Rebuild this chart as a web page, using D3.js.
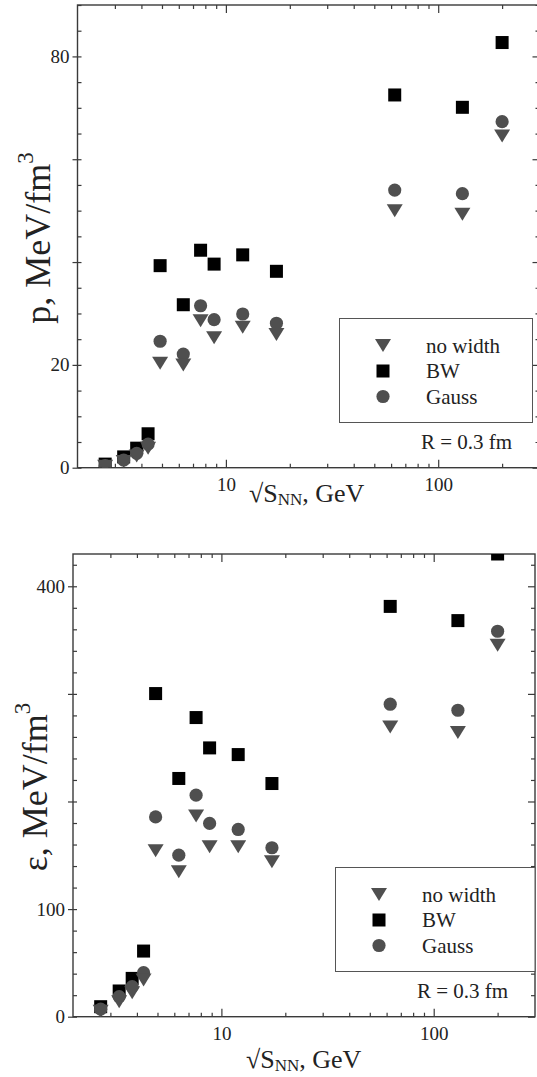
<!DOCTYPE html>
<html>
<head>
<meta charset="utf-8">
<script src="https://cdn.jsdelivr.net/npm/d3@7"></script>
<style>
  html, body { margin: 0; padding: 0; background: #fff; }
  svg { display: block; font-family: 'Liberation Serif', 'Times New Roman', serif; }
  svg text { font-family: 'Liberation Serif', 'Times New Roman', serif !important; fill: #222; }
</style>
</head>
<body>
<svg id="chart" width="537" height="1077"></svg>
<script>
// Collision energies, sqrt(s_NN) in GeV
const energies = [2.7, 3.3, 3.8, 4.3, 4.9, 6.3, 7.6, 8.8, 12.0, 17.3, 62.4, 130, 200];

// Pressure p, MeV/fm^3
const pNoWidth = [0.3, 1.2, 2.3, 3.8, 20.3, 20.0, 28.6, 25.3, 27.3, 25.9, 50.0, 49.3, 64.5];
const pBW      = [0.7, 2.1, 3.8, 6.6, 39.3, 31.7, 42.3, 39.6, 41.4, 38.2, 72.5, 70.1, 82.7];
const pGauss   = [0.4, 1.5, 2.8, 4.6, 24.6, 22.1, 31.5, 28.8, 29.9, 28.1, 54.0, 53.3, 67.3];

// Energy density epsilon, MeV/fm^3
const eNoWidth = [5, 14, 22.3, 34, 154.2, 134.6, 186.4, 157.9, 157.9, 144, 269.3, 264, 345.1];
const eBW      = [9.3, 23.9, 35.6, 61, 300.3, 221.4, 278, 249.8, 243.6, 216.7, 381.3, 368.1, 430];
const eGauss   = [7, 18.6, 27.9, 40.9, 185.7, 150.1, 205.9, 179.6, 174, 157, 290.4, 284.8, 358.2];

// Axis ticks and labels
const xDomain = [2, 300];
const xMajor = [10, 100];
const xMinor = [3, 4, 5, 6, 7, 8, 9, 20, 30, 40, 50, 60, 70, 80, 90, 200];
const pDomain = [0, 90];
const pMajor = [0, 20, 40, 60, 80];
const pLabels = [0, 20, 80];
const pMinorStep = 5;
const eDomain = [0, 430];
const eMajor = [0, 100, 200, 300, 400];
const eLabels = [0, 100, 400];
const eMinorStep = 20;

const seriesNames = ["no width", "BW", "Gauss"];
const noteText = "R = 0.3 fm";

const FONT = "'Liberation Serif', 'Times New Roman', serif";
const svg = d3.select("#chart");
const GRAY = "#4f4f4f";
const AXIS = "#3a3a3a";

const triPath = "M-8,-6.5L8,-6.5L0,6.5Z";

function marker(sel, kind) {
  if (kind === "tri") {
    sel.append("path").attr("d", triPath).attr("fill", GRAY);
  } else if (kind === "sq") {
    sel.append("rect").attr("x", -6.5).attr("y", -6.5).attr("width", 13).attr("height", 13).attr("fill", "#000");
  } else {
    sel.append("circle").attr("r", 6.6).attr("fill", GRAY);
  }
}

function drawPanel(cfg) {
  const g = svg.append("g");
  const x = d3.scaleLog().domain(xDomain).range(cfg.xRange);
  const y = d3.scaleLinear().domain(cfg.yDomain).range(cfg.yRange);
  const [x0, x1] = cfg.xRange;
  const [y0, y1] = cfg.yRange; // y0 bottom, y1 top

  const yMinor = d3.range(cfg.yDomain[0], cfg.yDomain[1] + 0.001, cfg.minorStep)
    .filter(v => !cfg.yMajor.includes(v));

  // Bottom axis (ticks pointing inward)
  const bottom = g.append("g").attr("transform", `translate(0,${y0})`)
    .call(d3.axisBottom(x).tickValues(xMajor).tickSize(-8).tickFormat(d3.format("d")).tickPadding(10));
  bottom.append("g").call(d3.axisBottom(x).tickValues(xMinor).tickSize(-4).tickFormat(""));
  // Top axis
  const top = g.append("g").attr("transform", `translate(0,${y1})`)
    .call(d3.axisTop(x).tickValues(xMajor).tickSize(-8).tickFormat(""));
  top.append("g").call(d3.axisTop(x).tickValues(xMinor).tickSize(-4).tickFormat(""));
  // Left axis: major ticks cross the line, minor ticks inward
  const left = g.append("g").attr("transform", `translate(${x0},0)`)
    .call(d3.axisLeft(y).tickValues(cfg.yMajor).tickSize(5)
      .tickFormat(d => cfg.yLabels.includes(d) ? d : "").tickPadding(3));
  left.append("g").call(d3.axisLeft(y).tickValues(cfg.yMajor).tickSize(-4).tickFormat(""));
  left.append("g").call(d3.axisLeft(y).tickValues(yMinor).tickSize(-4).tickFormat(""));
  // Right axis
  const right = g.append("g").attr("transform", `translate(${x1},0)`)
    .call(d3.axisRight(y).tickValues(cfg.yMajor).tickSize(-7).tickFormat(""));
  right.append("g").call(d3.axisRight(y).tickValues(yMinor).tickSize(-4).tickFormat(""));

  g.selectAll("g").attr("font-family", FONT);
  g.selectAll(".domain").remove();
  g.selectAll(".tick line").attr("stroke", AXIS).attr("stroke-width", 1.2);
  g.selectAll(".tick text").attr("font-size", 19).attr("fill", "#222")
    .style("font-family", FONT);

  // Plot frame
  g.append("rect").attr("x", x0).attr("y", y1).attr("width", x1 - x0).attr("height", y0 - y1)
    .attr("fill", "none").attr("stroke", AXIS).attr("stroke-width", 1.4);

  // Markers, clipped to the plot box
  const clipId = "clip" + cfg.id;
  svg.append("clipPath").attr("id", clipId).append("rect")
    .attr("x", x0).attr("y", y1).attr("width", x1 - x0).attr("height", y0 - y1);
  const pts = g.append("g").attr("clip-path", `url(#${clipId})`);
  const series = [
    { vals: cfg.bw, kind: "sq" },
    { vals: cfg.gauss, kind: "circ" },
    { vals: cfg.nowidth, kind: "tri" }
  ];
  series.forEach(s => {
    pts.append("g").selectAll("g").data(energies.map((e, i) => [e, s.vals[i]]))
      .join("g")
      .attr("transform", d => `translate(${x(d[0])},${y(d[1])})`)
      .each(function () { marker(d3.select(this), s.kind); });
  });

  // Axis titles
  const xt = g.append("text").attr("x", cfg.xTitle[0]).attr("y", cfg.xTitle[1])
    .attr("font-size", 26).attr("text-anchor", "start").style("font-family", FONT);
  xt.append("tspan").text("\u221AS");
  xt.append("tspan").text("NN").attr("font-size", 17).attr("dy", 3);
  xt.append("tspan").text(", GeV").attr("dy", -3);

  const yt = g.append("text")
    .attr("transform", `translate(${cfg.yTitle[0]},${cfg.yTitle[1]}) rotate(-90)`)
    .attr("font-size", 36).attr("text-anchor", "middle").style("font-family", FONT);
  yt.append("tspan").text(cfg.yName + ", MeV/fm");
  yt.append("tspan").text("3").attr("font-size", 23).attr("dy", -17);

  // Legend
  const L = cfg.legend;
  g.append("rect").attr("x", L.x).attr("y", L.y).attr("width", L.w).attr("height", L.h)
    .attr("fill", "#fff").attr("stroke", "#555").attr("stroke-width", 1);
  const kinds = ["tri", "sq", "circ"];
  seriesNames.forEach((name, i) => {
    const cy = L.y + L.first + i * L.step;
    const mg = g.append("g").attr("transform", `translate(${L.mx},${cy})`);
    marker(mg, kinds[i]);
    g.append("text").attr("x", L.tx).attr("y", cy + 7).attr("font-size", 21)
      .style("font-family", FONT).text(name);
  });
  g.append("text").attr("x", cfg.note[0]).attr("y", cfg.note[1]).attr("font-size", 21)
    .style("font-family", FONT).text(noteText);
}

drawPanel({
  id: "p",
  xRange: [77.5, 539.5],
  yDomain: pDomain, yRange: [467.7, 5],
  yMajor: pMajor, yLabels: pLabels, minorStep: pMinorStep,
  nowidth: pNoWidth, bw: pBW, gauss: pGauss,
  yName: "p",
  xTitle: [249, 502],
  yTitle: [50, 238],
  legend: { x: 339.5, y: 318.5, w: 193, h: 104, mx: 383, tx: 426, first: 27, step: 25.5 },
  note: [421, 449]
});

drawPanel({
  id: "e",
  xRange: [73, 535],
  yDomain: eDomain, yRange: [1016.7, 554],
  yMajor: eMajor, yLabels: eLabels, minorStep: eMinorStep,
  nowidth: eNoWidth, bw: eBW, gauss: eGauss,
  yName: "\u03B5",
  xTitle: [246, 1068],
  yTitle: [47, 787],
  legend: { x: 335.5, y: 867.5, w: 199.5, h: 104, mx: 379, tx: 422, first: 27, step: 25.5 },
  note: [417, 998]
});
</script>
</body>
</html>
